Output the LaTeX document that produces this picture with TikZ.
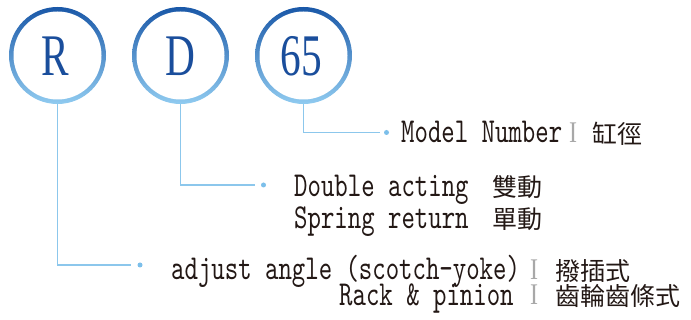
\documentclass[tikz,border=0pt]{standalone}
\usepackage{fontspec}
\newfontfamily\condfont{lmmono10-regular.otf}[FakeStretch=0.73]
\newfontfamily\circfont{Liberation Serif}[FakeStretch=0.7]
\newfontfamily\sepfont{Liberation Serif}[FakeStretch=0.8]
\newfontfamily\cjkfont{Noto Sans CJK TC}
\definecolor{ringtop}{HTML}{1A58A8}
\definecolor{ringmid}{HTML}{4F93D0}
\definecolor{ringbot}{HTML}{90CBF0}
\definecolor{lettc}{HTML}{1A4E9C}
\definecolor{conncol}{HTML}{8CC7EC}
\definecolor{dotcol}{HTML}{7CBFEA}
\definecolor{txtc}{HTML}{231815}
\definecolor{sepc}{HTML}{A8A8A8}
\tikzset{
  ring/.style={circle, inner sep=0pt, minimum size=97pt, top color=ringtop, middle color=ringmid, bottom color=ringbot, draw=none},
  ringin/.style={circle, inner sep=0pt, minimum size=88pt, fill=white},
  lett/.style={anchor=base, inner sep=0pt, text=lettc, font=\circfont\fontsize{59}{59}\selectfont},
  conn/.style={draw=conncol, line width=1.1pt},
  dotn/.style={circle, fill=dotcol, inner sep=0pt, minimum size=5pt},
  lat/.style={anchor=base west, inner sep=0pt, text height=20pt, text depth=4pt, text=txtc, font=\condfont\fontsize{35}{35}\selectfont},
  sep/.style={anchor=base west, inner sep=0pt, text height=20pt, text depth=2pt, text=sepc, font=\sepfont\fontsize{30}{30}\selectfont},
  cjk/.style={anchor=base west, inner sep=0pt, text height=20pt, text depth=2pt, text=txtc, font=\cjkfont\fontsize{25}{25}\selectfont},
}
\begin{document}
\begin{tikzpicture}[x=1pt, y=-1pt]
\useasboundingbox (0,0) rectangle (691,320);
% circles
\node[ring] (R) at (57.5,55.5) {};
\node[ring] (D) at (180.5,55.5) {};
\node[ring] (N) at (303.5,55.5) {};
\node[ringin] (Rin) at (57.5,55.5) {};
\node[ringin] (Din) at (180.5,55.5) {};
\node[ringin] (Nin) at (303.5,55.5) {};
\node[lett] (Rt) at (55,76) {R};
\node[lett] (Dt) at (180,76) {D};
\node[lett] (Nt) at (301,76) {65};
% connector ends and dots
\coordinate (eN) at (380,132.5);
\coordinate (eD) at (255,185);
\coordinate (eR) at (131,265);
\node[dotn] (pN) at (386.5,132.5) {};
\node[dotn] (pD) at (263.5,185) {};
\node[dotn] (pR) at (140,265) {};
\draw[conn] (N.south) |- (eN);
\draw[conn] (D.south) |- (eD);
\draw[conn] (R.south) |- (eR);
% texts
\node[lat] (t1) at (401,143) {Model Number};
\node[sep] (s1) at (569,143) {I};
\node[cjk] (c1) at (592,144) {缸徑};
\node[lat] (t2) at (294,196.5) {Double acting};
\node[cjk] (c2) at (492,197) {雙動};
\node[lat] (t3) at (294,228.5) {Spring return};
\node[cjk] (c3) at (492,229) {單動};
\node[lat] (t4) at (171,279.5) {adjust angle (scotch-yoke)};
\node[sep] (s4) at (530,280) {I};
\node[cjk] (c4) at (555,281) {撥插式};
\node[lat] (t5) at (339,305.5) {Rack \& pinion};
\node[sep] (s5) at (530,305) {I};
\node[cjk] (c5) at (555,306) {齒輪齒條式};
\end{tikzpicture}
\end{document}
